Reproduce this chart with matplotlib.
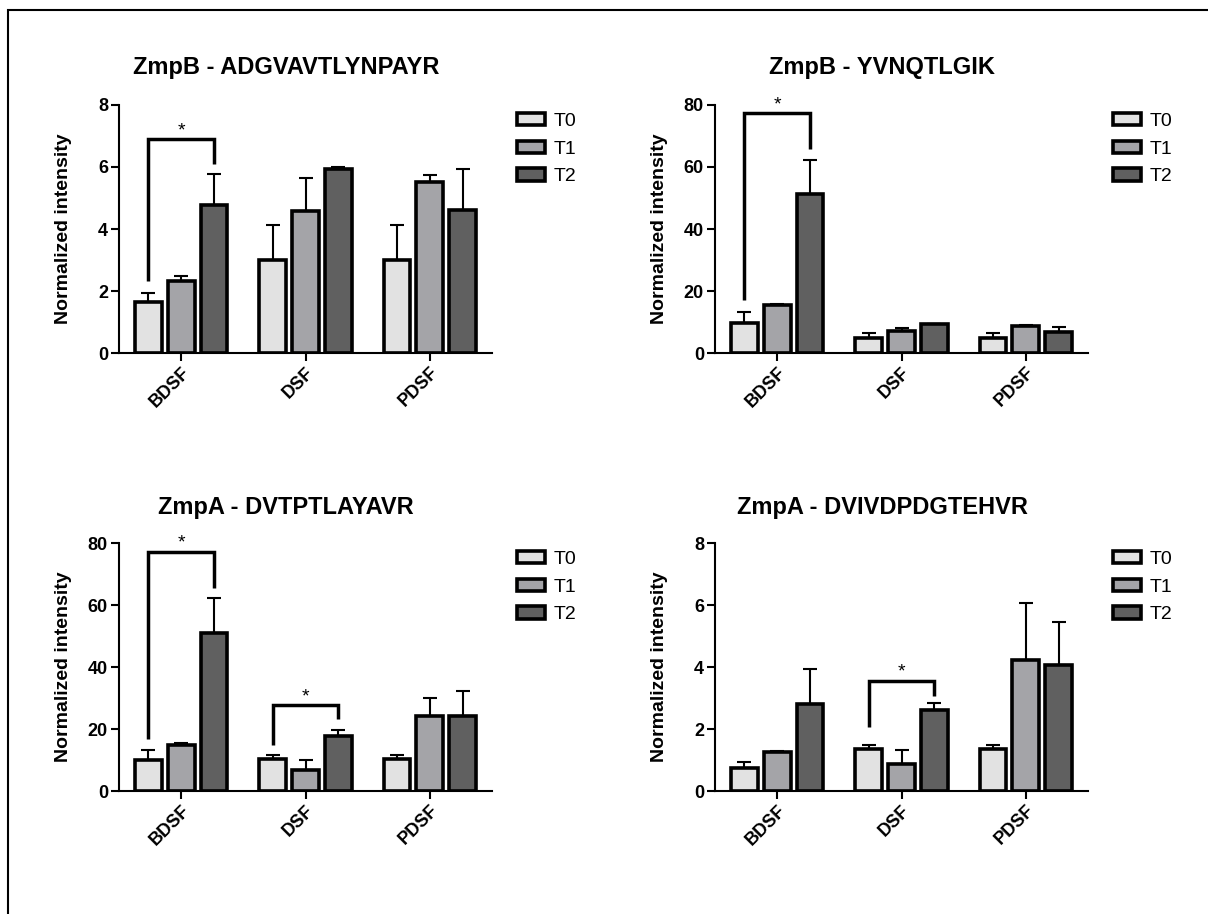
import matplotlib
matplotlib.use("Agg")
import matplotlib.pyplot as plt
from matplotlib.patches import Rectangle
import numpy as np

plt.rcParams['font.family'] = ['Liberation Sans', 'DejaVu Sans']

# groups and time points
groups = ['BDSF', 'DSF', 'PDSF']
times = ['T0', 'T1', 'T2']
colors = ['#e2e2e2', '#a4a4a8', '#606060']

titles = ['ZmpB - ADGVAVTLYNPAYR', 'ZmpB - YVNQTLGIK',
          'ZmpA - DVTPTLAYAVR', 'ZmpA - DVIVDPDGTEHVR']
ymax = [8, 80, 80, 8]
ystep = [2, 20, 20, 2]

# means (rows = T0, T1, T2; columns = BDSF, DSF, PDSF)
means_1 = [[1.64, 2.99, 2.99], [2.31, 4.57, 5.51], [4.76, 5.94, 4.61]]
errs_1 = [[0.30, 1.13, 1.13], [0.17, 1.06, 0.23], [1.00, 0.06, 1.34]]
means_2 = [[9.8, 5.0, 5.0], [15.4, 7.0, 8.8], [51.3, 9.2, 6.9]]
errs_2 = [[3.4, 1.4, 1.4], [0.3, 1.2, 0.2], [11.1, 0.3, 1.6]]
means_3 = [[10.0, 10.4, 10.4], [15.0, 6.7, 24.2], [51.0, 17.7, 24.2]]
errs_3 = [[3.2, 1.1, 1.1], [0.4, 3.3, 5.7], [11.4, 2.0, 8.0]]
means_4 = [[0.75, 1.34, 1.34], [1.26, 0.86, 4.24], [2.81, 2.60, 4.08]]
errs_4 = [[0.19, 0.16, 0.16], [0.04, 0.46, 1.82], [1.11, 0.23, 1.38]]

# significance brackets T0 vs T2: (group, left end, top, right end)
sig_1 = [(0, 2.31, 6.89, 6.11)]
sig_2 = [(0, 17.2, 77.3, 65.8)]
sig_3 = [(0, 16.9, 77.2, 65.5), (1, 15.0, 27.7, 23.1)]
sig_4 = [(1, 2.07, 3.55, 3.06)]

all_means = [means_1, means_2, means_3, means_4]
all_errs = [errs_1, errs_2, errs_3, errs_4]
all_sig = [sig_1, sig_2, sig_3, sig_4]

W, H = 1208, 914
fig = plt.figure(figsize=(W / 100, H / 100), dpi=100)

# outer frame
fig.add_artist(Rectangle((8 / W, -0.1), 1.2, 1.1 - 10 / H, transform=fig.transFigure,
                         fill=False, edgecolor='black', linewidth=1.5))

# axes boxes in pixels: left, top
boxes = [(119, 105), (715, 105), (119, 543), (715, 543)]
ax_w, ax_h = 373, 248
title_x = [286, 882, 286, 882]
title_y = [74, 74, 514, 514]

bw = 0.216
off = 0.264
x = np.arange(len(groups))

for k in range(4):
    left, top = boxes[k]
    ax = fig.add_axes([left / W, 1 - (top + ax_h) / H, ax_w / W, ax_h / H])
    means = all_means[k]
    errs = all_errs[k]
    for i in range(3):
        xs = x + (i - 1) * off
        ax.errorbar(xs, means[i], yerr=[np.zeros(3), errs[i]], fmt='none',
                    ecolor='black', elinewidth=1.5, capsize=4.7, capthick=1.5, zorder=1)
        ax.bar(xs, means[i], width=bw, color=colors[i], edgecolor='black',
               linewidth=2.6, label=times[i], zorder=2)

    for g, y0, ytop, y1 in all_sig[k]:
        xa = g - off
        xb = g + off
        ax.plot([xa, xa, xb, xb], [y0, ytop, ytop, y1], color='black', lw=2.5,
                solid_capstyle='butt', solid_joinstyle='miter', zorder=3, clip_on=False)
        ax.text(g, ytop, '*', ha='center', va='bottom', fontsize=14, clip_on=False)

    ax.set_xlim(-0.5, 2.5)
    ax.set_ylim(0, ymax[k])
    ax.set_yticks(np.arange(0, ymax[k] + 0.01, ystep[k]))
    ax.set_xticks(x)
    ax.set_xticklabels(groups, rotation=45, ha='right', rotation_mode='anchor',
                       fontsize=13, fontweight='bold')
    for lab in ax.get_yticklabels():
        lab.set_fontsize(13)
        lab.set_fontweight('bold')
    ax.tick_params(axis='both', direction='out', length=6, width=1.5, pad=2)
    ax.spines['top'].set_visible(False)
    ax.spines['right'].set_visible(False)
    ax.spines['left'].set_linewidth(1.5)
    ax.spines['bottom'].set_linewidth(1.5)
    ax.set_ylabel('Normalized intensity', fontsize=14, fontweight='bold')
    ax.yaxis.set_label_coords(-(119 - 72) / ax_w, 0.5)

    ax.legend(loc='upper left', bbox_to_anchor=(398 / ax_w, (ax_h - 8) / ax_h),
              frameon=False, fontsize=14, borderpad=0, borderaxespad=0,
              handlelength=1.45, handleheight=0.6, handletextpad=0.45,
              labelspacing=0.55)

    fig.text(title_x[k] / W, 1 - title_y[k] / H, titles[k], ha='center', va='baseline',
             fontsize=17, fontweight='bold')

fig.savefig('out.png', dpi=100)
